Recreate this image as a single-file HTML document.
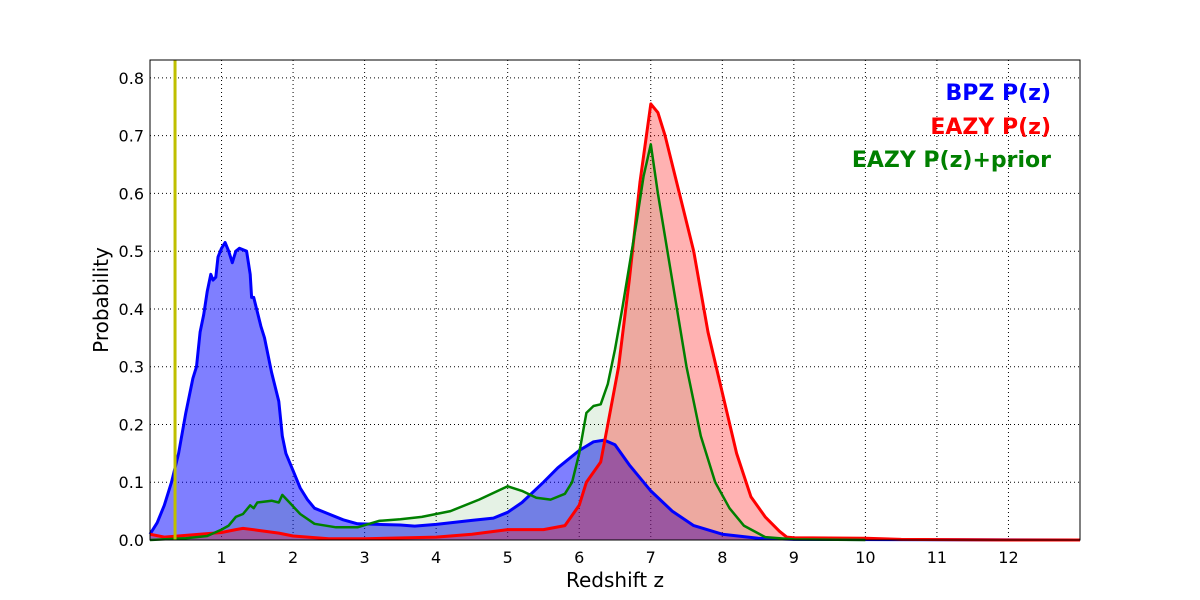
<!DOCTYPE html>
<html><head><meta charset="utf-8"><style>body{margin:0;background:#fff}svg{display:block;font-family:"DejaVu Sans","Liberation Sans",sans-serif}</style></head>
<body>
<svg id="chart" width="1200" height="600"></svg>
<script>
const xTicks=[1,2,3,4,5,6,7,8,9,10,11,12];
const yTicks=[0,0.1,0.2,0.3,0.4,0.5,0.6,0.7,0.8];
const yTickLabels=["0.0","0.1","0.2","0.3","0.4","0.5","0.6","0.7","0.8"];
const bpzZ=[0,0.1,0.2,0.3,0.4,0.5,0.6,0.65,0.7,0.75,0.8,0.85,0.88,0.92,0.95,1.0,1.05,1.1,1.15,1.2,1.25,1.35,1.4,1.42,1.45,1.55,1.6,1.7,1.8,1.85,1.9,2.0,2.1,2.2,2.3,2.5,2.7,2.9,3.2,3.5,3.7,4.0,4.5,4.8,5.0,5.2,5.5,5.7,6.0,6.2,6.35,6.5,6.7,7.0,7.3,7.6,8.0,8.5,9,13];
const bpzP=[0.01,0.03,0.06,0.1,0.15,0.22,0.28,0.3,0.36,0.39,0.43,0.46,0.45,0.455,0.49,0.505,0.515,0.5,0.48,0.5,0.505,0.5,0.46,0.42,0.42,0.37,0.35,0.29,0.24,0.18,0.15,0.12,0.09,0.07,0.055,0.045,0.035,0.028,0.027,0.026,0.024,0.027,0.034,0.038,0.048,0.065,0.1,0.125,0.155,0.17,0.173,0.165,0.13,0.085,0.05,0.025,0.01,0.003,0.001,0];
const eazyZ=[0,0.2,0.5,1.0,1.2,1.3,1.5,1.8,2.0,2.5,3,4,4.5,5,5.5,5.8,6.0,6.1,6.3,6.4,6.55,6.7,6.85,7.0,7.1,7.2,7.4,7.6,7.8,8.0,8.2,8.4,8.6,8.8,8.9,9.0,10,10.5,12,13];
const eazyP=[0.01,0.005,0.008,0.013,0.018,0.02,0.017,0.012,0.007,0.002,0.002,0.005,0.01,0.018,0.018,0.025,0.06,0.1,0.135,0.2,0.3,0.45,0.62,0.755,0.74,0.7,0.6,0.5,0.36,0.255,0.15,0.075,0.04,0.015,0.005,0.004,0.003,0.001,0,0];
const priorZ=[0,0.5,0.8,1.0,1.1,1.2,1.3,1.4,1.45,1.5,1.7,1.8,1.85,1.95,2.1,2.3,2.6,2.9,3.2,3.5,3.8,4.2,4.6,5.0,5.2,5.4,5.6,5.8,5.9,6.0,6.1,6.2,6.3,6.4,6.5,6.6,6.8,6.9,7.0,7.1,7.3,7.5,7.7,7.9,8.1,8.3,8.6,9,10];
const priorP=[0,0.003,0.007,0.018,0.025,0.04,0.045,0.06,0.055,0.065,0.068,0.065,0.078,0.065,0.045,0.028,0.022,0.022,0.033,0.036,0.04,0.05,0.07,0.093,0.085,0.073,0.07,0.08,0.1,0.15,0.22,0.232,0.235,0.27,0.33,0.4,0.55,0.63,0.685,0.6,0.45,0.3,0.18,0.1,0.055,0.025,0.005,0.001,0];
const markerZ=0.35;
const L=150,R=1080,T=60,B=540,XMAX=13,YMAX=0.831;
const sx=z=>L+z/XMAX*(R-L), sy=p=>B-p/YMAX*(B-T);
const svg=document.getElementById('chart');const NS='http://www.w3.org/2000/svg';
function mk(tag,at,parent){const e=document.createElementNS(NS,tag);for(const k in at)e.setAttribute(k,at[k]);(parent||svg).appendChild(e);return e;}
const grid=mk('g',{});


xTicks.forEach(t=>{mk('line',{x1:sx(t),x2:sx(t),y1:T,y2:B,stroke:'#000','stroke-width':1,'stroke-dasharray':'1,3'},grid);
 const tx=mk('text',{x:sx(t),y:563,'text-anchor':'middle','font-size':16});tx.textContent=t;
 
 });
yTicks.forEach((t,i)=>{if(t>0)mk('line',{x1:L,x2:R,y1:sy(t),y2:sy(t),stroke:'#000','stroke-width':1,'stroke-dasharray':'1,3'},grid);
 const tx=mk('text',{x:144,y:sy(t)+6,'text-anchor':'end','font-size':16});tx.textContent=yTickLabels[i];
 
 });
function series(zs,ps,color,op,name){
 const pts=zs.map((z,i)=>sx(z).toFixed(1)+','+sy(ps[i]).toFixed(1));
 const f=mk('path',{d:'M'+sx(zs[0])+','+sy(0)+' L'+pts.join(' L')+' L'+sx(zs[zs.length-1])+','+sy(0)+'Z',fill:color,'fill-opacity':op,stroke:'none'});
 
 
 return pts;}
const bp=series(bpzZ,bpzP,'#0000ff',0.5,'bpz');
const pp=series(priorZ,priorP,'#008000',0.1,'eazy-prior');
const ep=series(eazyZ,eazyP,'#ff0000',0.3,'eazy');
function line(pts,color,w,name){const l=mk('polyline',{points:pts.join(' '),fill:'none',stroke:color,'stroke-width':w,'stroke-linejoin':'round'});
 
 }
line(bp,'#0000ff',3,'bpz-line');line(ep,'#ff0000',3,'eazy-line');line(pp,'#008000',2.5,'eazy-prior-line');
const ml=mk('line',{x1:sx(markerZ),x2:sx(markerZ),y1:T,y2:B,stroke:'#bfbf00','stroke-width':3});


const fr=mk('rect',{x:L,y:T,width:R-L,height:B-T,fill:'none',stroke:'#000','stroke-width':1});


[['BPZ P(z)','#0000ff',100,'legend-bpz'],['EAZY P(z)','#ff0000',134,'legend-eazy'],['EAZY P(z)+prior','#008000',167,'legend-eazy-prior']].forEach(a=>{
 const t=mk('text',{x:1051,y:a[2],'text-anchor':'end','font-size':22,'font-weight':'bold',fill:a[1]});t.textContent=a[0];
 
 });
const xl=mk('text',{x:615,y:587,'text-anchor':'middle','font-size':20});xl.textContent='Redshift z';


const yl=mk('text',{x:108,y:300,'text-anchor':'middle','font-size':20,transform:'rotate(-90 108 300)'});yl.textContent='Probability';


</script>
</body></html>
